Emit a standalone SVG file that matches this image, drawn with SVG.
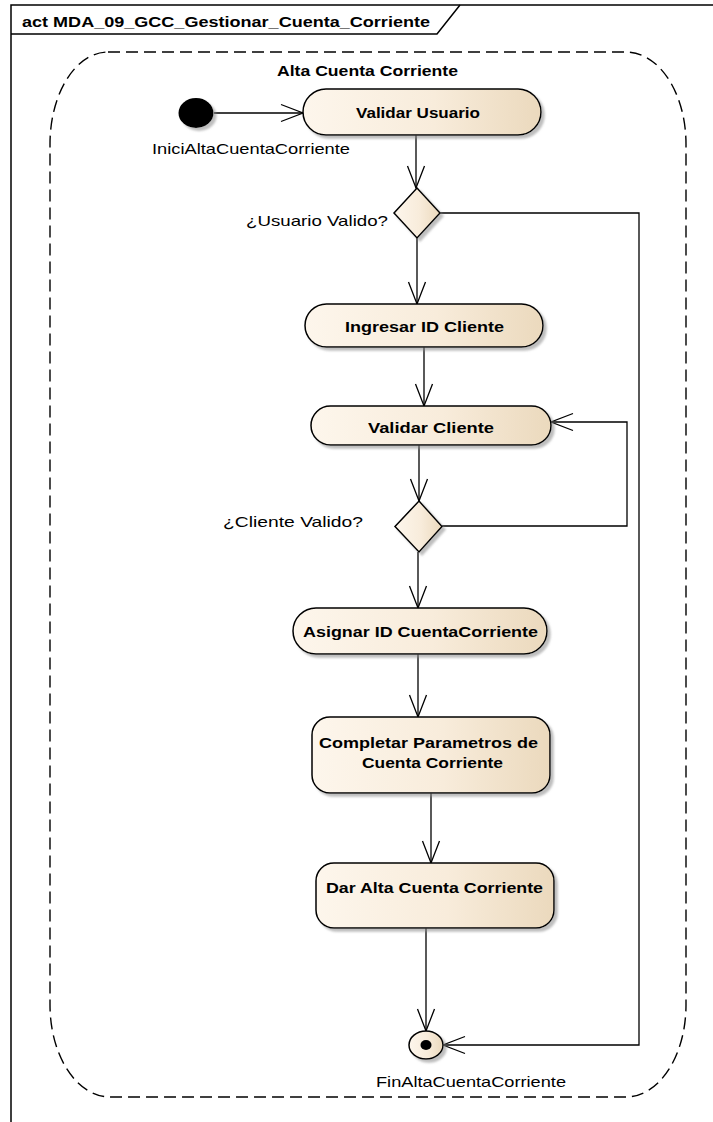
<svg xmlns="http://www.w3.org/2000/svg" width="713" height="1122" viewBox="0 0 713 1122">
<style>
text{font-family:"Liberation Sans",Arial,sans-serif;fill:#000}
.b{font-weight:bold;font-size:15px}
.r{font-size:15px}
.frame{fill:none;stroke:#000;stroke-width:1.5}
.act{fill:url(#g);stroke:#000;stroke-width:1.5;filter:url(#sh)}
.con{fill:none;stroke:#000;stroke-width:1.3;marker-end:url(#arr)}
.region{fill:none;stroke:#000;stroke-width:1.4;stroke-dasharray:12 6}
</style>
<defs>
<linearGradient id="g" x1="0" y1="0" x2="1" y2="0">
<stop offset="0" stop-color="#fdf6ec"/>
<stop offset="0.55" stop-color="#f8ecdb"/>
<stop offset="1" stop-color="#ebd9bd"/>
</linearGradient>
<filter id="sh" x="-10%" y="-10%" width="130%" height="140%">
<feDropShadow dx="3" dy="3" stdDeviation="1.2" flood-color="#888" flood-opacity="0.55"/>
</filter>
<marker id="arr" markerUnits="userSpaceOnUse" markerWidth="30" markerHeight="24" viewBox="-24 -12 30 24" refX="0" refY="0" orient="auto">
<path d="M-22,-8.5 L0,0 L-22,8.5" fill="none" stroke="#000" stroke-width="1.3"/>
</marker>
</defs>
<rect width="713" height="1122" fill="#fff"/>
<g id="frame">
<path class="frame" d="M11,1122 L11,5 L713,5"/>
<path class="frame" d="M11,34 L437,34 L460,5"/>
<text class="b" x="22" y="27" textLength="408" lengthAdjust="spacingAndGlyphs">act MDA_09_GCC_Gestionar_Cuenta_Corriente</text>
</g>
<g id="region">
<path class="region" d="M108,52 L626,52 A60,92 0 0 1 686,144 L686,1005 A60,92 0 0 1 626,1097 L110,1097 A60,92 0 0 1 50,1005 L50,144 A58,92 0 0 1 108,52 Z"/>
<text class="b" x="277" y="76" textLength="181" lengthAdjust="spacingAndGlyphs" style="font-size:14.5px">Alta Cuenta Corriente</text>
</g>
<g id="connectors">
<line class="con" x1="214" y1="113" x2="303" y2="113"/>
<line class="con" x1="416" y1="135" x2="416" y2="188"/>
<line class="con" x1="417" y1="238" x2="417" y2="304"/>
<line class="con" x1="424" y1="347" x2="424" y2="406"/>
<line class="con" x1="419" y1="445" x2="419" y2="501"/>
<polyline class="con" points="442,526 627,526 627,422 551,422"/>
<line class="con" x1="418" y1="552" x2="418" y2="608"/>
<line class="con" x1="418" y1="654" x2="418" y2="717"/>
<line class="con" x1="431" y1="793" x2="431" y2="863"/>
<line class="con" x1="426" y1="928" x2="426" y2="1031"/>
<polyline class="con" points="440,213 639,213 639,1045 443,1045"/>
</g>
<g id="initial">
<ellipse cx="196" cy="113" rx="17.5" ry="15" fill="#000" filter="url(#sh)"/>
<text class="r" x="152" y="154" textLength="198" lengthAdjust="spacingAndGlyphs">IniciAltaCuentaCorriente</text>
</g>
<g id="validarUsuario">
<rect class="act" x="303" y="89" width="238" height="46" rx="23"/>
<text class="b" x="356" y="118" textLength="124" lengthAdjust="spacingAndGlyphs">Validar Usuario</text>
</g>
<g id="decisionUsuario">
<polygon class="act" points="417,188 440,213 417,238 394,213"/>
<text class="r" x="246" y="226" textLength="142" lengthAdjust="spacingAndGlyphs">¿Usuario Valido?</text>
</g>
<g id="ingresarIdCliente">
<rect class="act" x="305" y="304" width="238" height="43" rx="21.5"/>
<text class="b" x="345" y="332" textLength="159" lengthAdjust="spacingAndGlyphs">Ingresar ID Cliente</text>
</g>
<g id="validarCliente">
<rect class="act" x="311" y="406" width="240" height="39" rx="19.5"/>
<text class="b" x="368" y="433" textLength="126" lengthAdjust="spacingAndGlyphs">Validar Cliente</text>
</g>
<g id="decisionCliente">
<polygon class="act" points="419,501 442,526.5 419,552 395,526.5"/>
<text class="r" x="223" y="527" textLength="140" lengthAdjust="spacingAndGlyphs">¿Cliente Valido?</text>
</g>
<g id="asignarId">
<rect class="act" x="293" y="608" width="254" height="46" rx="23"/>
<text class="b" x="303" y="637" textLength="235" lengthAdjust="spacingAndGlyphs">Asignar ID CuentaCorriente</text>
</g>
<g id="completarParametros">
<rect class="act" x="312" y="717" width="238" height="76" rx="18"/>
<text class="b" x="319" y="748" textLength="219" lengthAdjust="spacingAndGlyphs">Completar Parametros de</text>
<text class="b" x="362" y="768" textLength="141" lengthAdjust="spacingAndGlyphs">Cuenta Corriente</text>
</g>
<g id="darAlta">
<rect class="act" x="316" y="863" width="238" height="65" rx="18"/>
<text class="b" x="326" y="893" textLength="217" lengthAdjust="spacingAndGlyphs">Dar Alta Cuenta Corriente</text>
</g>
<g id="final">
<ellipse cx="426" cy="1045" rx="17" ry="14" fill="url(#g)" stroke="#000" stroke-width="1.5" filter="url(#sh)"/>
<ellipse cx="426" cy="1045" rx="5.5" ry="5" fill="#000"/>
<text class="r" x="376" y="1087" textLength="190" lengthAdjust="spacingAndGlyphs">FinAltaCuentaCorriente</text>
</g>
</svg>
